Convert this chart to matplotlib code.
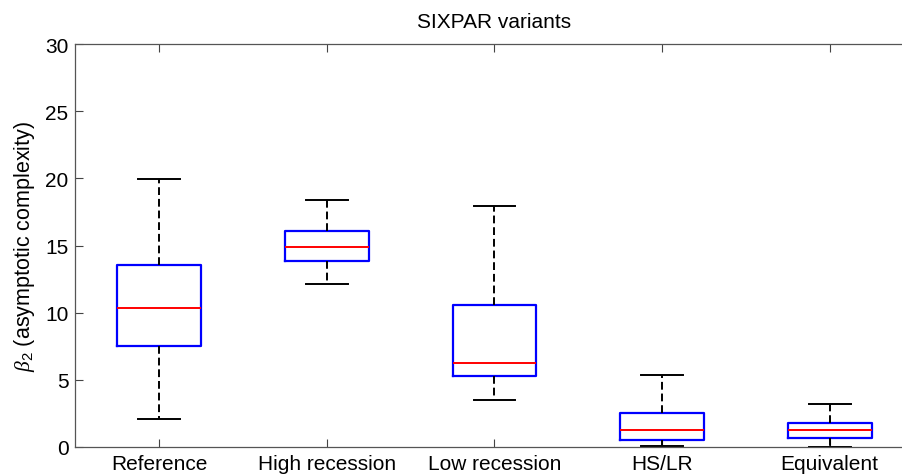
import matplotlib
matplotlib.use("Agg")
import matplotlib.pyplot as plt

categories = ["Reference", "High recession", "Low recession", "HS/LR", "Equivalent"]
whisker_low = [2.1, 12.1, 3.5, 0.05, 0.0]
q1 = [7.5, 13.85, 5.26, 0.52, 0.69]
median = [10.37, 14.92, 6.25, 1.29, 1.24]
q3 = [13.53, 16.08, 10.55, 2.55, 1.79]
whisker_high = [19.95, 18.39, 17.94, 5.38, 3.23]
yticks = [0, 5, 10, 15, 20, 25, 30]

plt.rcParams['font.family'] = ['Liberation Sans', 'DejaVu Sans']
plt.rcParams['mathtext.fontset'] = 'custom'
plt.rcParams['mathtext.it'] = 'Liberation Serif:italic'
plt.rcParams['mathtext.rm'] = 'Liberation Sans'

fig = plt.figure(figsize=(9.03, 4.77), dpi=100)
ax = fig.add_axes([75.5/903, 29/477, (913.5-75.5)/903, (448-45)/477])

stats = []
for i, name in enumerate(categories):
    stats.append(dict(label=name, whislo=whisker_low[i], q1=q1[i], med=median[i],
                      q3=q3[i], whishi=whisker_high[i], fliers=[]))

ax.bxp(stats, positions=range(1, len(categories)+1), widths=0.5, capwidths=0.25,
       showfliers=False,
       boxprops=dict(color='#0000ff', linewidth=1.6),
       medianprops=dict(color='#ff0000', linewidth=1.4),
       whiskerprops=dict(color='black', linewidth=1.4, linestyle=(0, (4, 2))),
       capprops=dict(color='black', linewidth=1.4))

ax.set_xlim(0.5, 5.5)
ax.set_ylim(0, 30)
ax.set_yticks(yticks)
ax.set_xticks(range(1, len(categories)+1))
ax.set_xticklabels(categories)
ax.tick_params(axis='both', direction='in', length=6, width=0.8, color='#444444',
               labelsize=15, top=True, right=True, pad=5)
for s in ax.spines.values():
    s.set_color('#555555')
    s.set_linewidth(0.9)
ax.set_title('SIXPAR variants', fontsize=15, pad=12)
ax.set_ylabel(r'$\beta_2$ (asymptotic complexity)', fontsize=15.5, labelpad=6)

fig.savefig('out.png', dpi=100)
